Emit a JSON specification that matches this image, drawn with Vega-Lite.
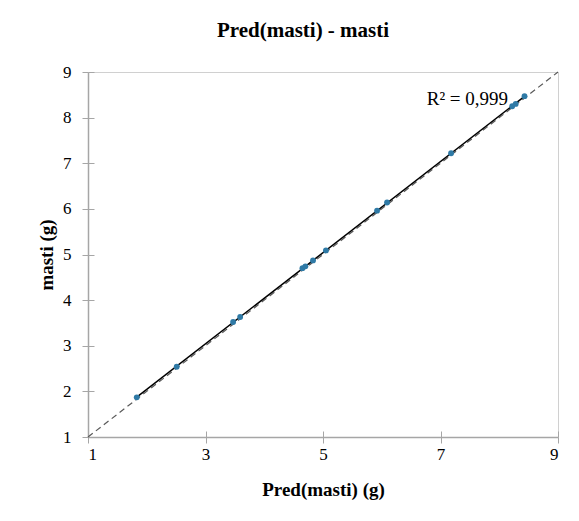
{
  "$schema": "https://vega.github.io/schema/vega-lite/v6.json",
  "width": 470,
  "height": 365,
  "autosize": {"type": "none"},
  "padding": {"left": 88, "top": 72, "right": 21, "bottom": 84},
  "background": "white",
  "title": {"text": "Pred(masti) - masti", "font": "Liberation Serif", "fontSize": 21, "fontWeight": "bold", "color": "black", "offset": 22, "dx": -20},
  "config": {
    "view": {"stroke": "#d0d0d0", "strokeWidth": 1},
    "axis": {"grid": false, "domainColor": "#a6a6a6", "domainWidth": 1.5, "tickColor": "#a6a6a6", "tickWidth": 1, "tickSize": 6,
      "labelFont": "Liberation Serif", "labelFontSize": 17, "labelColor": "black",
      "titleFont": "Liberation Serif", "titleFontSize": 19, "titleFontWeight": "bold", "titleColor": "black"}
  },
  "datasets": {
    "diag": [{"x": 1, "y": 1}, {"x": 9, "y": 9}],
    "pts": [
      {"x": 1.83, "y": 1.87}, {"x": 2.51, "y": 2.54}, {"x": 3.47, "y": 3.52}, {"x": 3.59, "y": 3.63},
      {"x": 4.65, "y": 4.70}, {"x": 4.70, "y": 4.74}, {"x": 4.83, "y": 4.87}, {"x": 5.05, "y": 5.09},
      {"x": 5.92, "y": 5.96}, {"x": 6.09, "y": 6.14}, {"x": 7.18, "y": 7.22}, {"x": 8.22, "y": 8.25},
      {"x": 8.28, "y": 8.30}, {"x": 8.43, "y": 8.47}
    ],
    "ann": [{"x": 8.15, "y": 8.27, "label": "R² = 0,999"}]
  },
  "layer": [
    {
      "data": {"name": "diag"},
      "mark": {"type": "line", "color": "#595959", "strokeDash": [6, 4], "strokeWidth": 1.2},
      "encoding": {
        "x": {"field": "x", "type": "quantitative", "scale": {"domain": [1, 9], "nice": false, "zero": false},
          "axis": {"orient": "bottom", "values": [1, 3, 5, 7, 9], "title": "Pred(masti) (g)", "labelPadding": 3, "titlePadding": 18}},
        "y": {"field": "y", "type": "quantitative", "scale": {"domain": [1, 9], "nice": false, "zero": false},
          "axis": {"orient": "left", "values": [1, 2, 3, 4, 5, 6, 7, 8, 9], "title": "masti (g)", "labelPadding": 11, "titlePadding": 6}}
      }
    },
    {
      "data": {"name": "pts"},
      "transform": [{"regression": "y", "on": "x"}],
      "mark": {"type": "line", "color": "black", "strokeWidth": 1.5},
      "encoding": {
        "x": {"field": "x", "type": "quantitative", "axis": {"orient": "bottom", "values": [1, 3, 5, 7, 9], "tickSize": -6, "labels": false, "domain": false, "title": null}},
        "y": {"field": "y", "type": "quantitative", "axis": {"orient": "left", "values": [1, 2, 3, 4, 5, 6, 7, 8, 9], "tickSize": -6, "labels": false, "domain": false, "title": null}}
      }
    },
    {
      "data": {"name": "pts"},
      "mark": {"type": "circle", "size": 34, "color": "#2f7aa6", "opacity": 1},
      "encoding": {
        "x": {"field": "x", "type": "quantitative", "axis": null},
        "y": {"field": "y", "type": "quantitative", "axis": null}
      }
    },
    {
      "data": {"name": "ann"},
      "mark": {"type": "text", "align": "right", "baseline": "alphabetic", "font": "Liberation Serif", "fontSize": 19, "color": "black"},
      "encoding": {
        "x": {"field": "x", "type": "quantitative", "axis": null},
        "y": {"field": "y", "type": "quantitative", "axis": null},
        "text": {"field": "label"}
      }
    }
  ],
  "resolve": {"axis": {"x": "independent", "y": "independent"}}
}
